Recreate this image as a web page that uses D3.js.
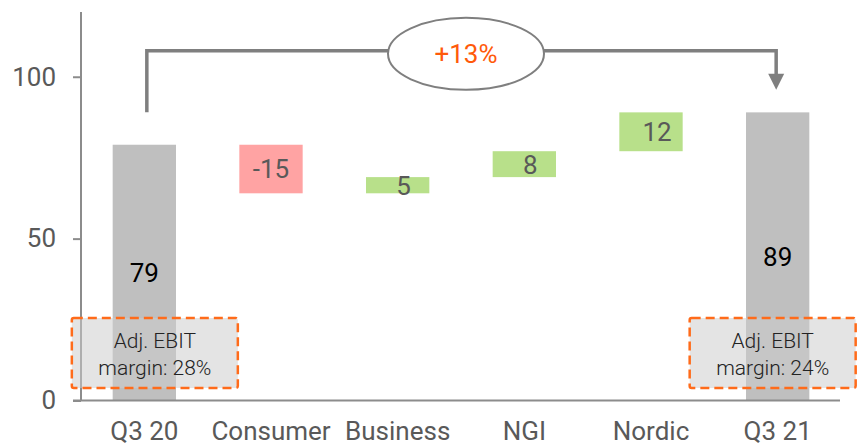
<!DOCTYPE html>
<html>
<head>
<meta charset="utf-8">
<script src="https://cdn.jsdelivr.net/npm/d3@7"></script>
<style>
  body { margin: 0; background: #fff; }
  svg, svg text { font-family: Roboto, "Noto Sans", sans-serif; }
</style>
</head>
<body>
<div id="container"></div>
<script>
var categories = ["Q3 20", "Consumer", "Business", "NGI", "Nordic", "Q3 21"];
var deltas = [79, -15, 5, 8, 12, 89];
var isTotal = [true, false, false, false, false, true];
var yTicks = [0, 50, 100];
var margins = ["Adj. EBIT|margin: 28%", "Adj. EBIT|margin: 24%"];
var growthLabel = "+13%";
// bracket levels in chart units: top line, left start, arrow tip
var bracketLevels = [108, 89, 96];

var width = 857, height = 446;

var svg = d3.select("#container").append("svg")
    .attr("width", width)
    .attr("height", height);

var x = d3.scaleBand()
    .domain(categories)
    .range([81, 841])
    .paddingInner(0.5)
    .paddingOuter(0.25);

var y = d3.scaleLinear()
    .domain([0, 120])
    .range([400.5, 12]);

// build waterfall steps
var bars = [];
var running = 0;
categories.forEach(function (c, i) {
    var d = deltas[i];
    if (isTotal[i]) {
        bars.push({cat: c, y0: 0, y1: d, value: d, type: "total"});
        running = d;
    } else {
        var start = running;
        running = running + d;
        bars.push({cat: c, y0: start, y1: running, value: d, type: d < 0 ? "neg" : "pos"});
    }
});

var fill = {total: "#bfbfbf", neg: "#ffa3a3", pos: "#b8e08a"};

svg.selectAll(".bar")
    .data(bars)
  .enter().append("rect")
    .attr("class", "bar")
    .attr("x", function (d) { return x(d.cat); })
    .attr("width", x.bandwidth())
    .attr("y", function (d) { return y(Math.max(d.y0, d.y1)); })
    .attr("height", function (d) { return Math.abs(y(d.y0) - y(d.y1)); })
    .style("fill", function (d) { return fill[d.type]; });

svg.selectAll(".val")
    .data(bars)
  .enter().append("text")
    .attr("class", "val")
    .attr("x", function (d) { return x(d.cat) + x.bandwidth() / 2 + (d.type == "pos" ? 6 : 0); })
    .attr("y", function (d) { return (y(d.y0) + y(d.y1)) / 2; })
    .attr("dy", "0.36em")
    .attr("text-anchor", "middle")
    .style("font-size", "26px")
    .style("fill", function (d) { return d.type == "total" ? "#000" : "#595959"; })
    .text(function (d) { return d.value; });

// y axis
var yAxis = d3.axisLeft(y).tickValues(yTicks).tickSize(8).tickPadding(17);
var gy = svg.append("g")
    .attr("transform", "translate(81,0)")
    .call(yAxis)
    .attr("font-family", null)
    .attr("font-size", null);
gy.select(".domain").remove();
gy.selectAll("line").attr("stroke", "#8c8c8c").attr("stroke-width", 2);
gy.selectAll("text").style("font-size", "26px").style("fill", "#595959");
svg.append("line")
    .attr("x1", 81).attr("x2", 81)
    .attr("y1", y(120)).attr("y2", y(0))
    .attr("stroke", "#8c8c8c").attr("stroke-width", 2);

// x axis
var xAxis = d3.axisBottom(x).tickSize(0).tickPadding(21);
var gx = svg.append("g")
    .attr("transform", "translate(0," + y(0) + ")")
    .call(xAxis)
    .attr("font-family", null)
    .attr("font-size", null);
gx.select(".domain").remove();
gx.selectAll("text").style("font-size", "26px").style("fill", "#595959");
svg.append("line")
    .attr("x1", 73).attr("x2", 840)
    .attr("y1", y(0)).attr("y2", y(0))
    .attr("stroke", "#8c8c8c").attr("stroke-width", 2);

// margin boxes
var boxes = [
    {text: margins[0], cx: x("Q3 20") + x.bandwidth() / 2 + 10.5},
    {text: margins[1], cx: x("Q3 21") + x.bandwidth() / 2 - 5}
];
var bw = 166, bh = 70;
var gb = svg.selectAll(".mbox")
    .data(boxes)
  .enter().append("g")
    .attr("class", "mbox");
gb.append("rect")
    .attr("x", function (d) { return d.cx - bw / 2; })
    .attr("y", 318)
    .attr("width", bw)
    .attr("height", bh)
    .attr("rx", 2)
    .style("fill", "#cccccc")
    .style("fill-opacity", 0.53)
    .style("stroke", "#ff6b1a")
    .style("stroke-width", 2.5)
    .style("stroke-dasharray", "9,5");
gb.each(function (d) {
    var lines = d.text.split("|");
    var t = d3.select(this);
    lines.forEach(function (l, i) {
        t.append("text")
            .attr("x", d.cx)
            .attr("y", 340 + i * 27)
            .attr("dy", "0.36em")
            .attr("text-anchor", "middle")
            .style("font-size", "21px")
            .style("font-weight", 300)
            .style("fill", "#222")
            .text(l);
    });
});

// growth bracket
var xl = x("Q3 20") + x.bandwidth() / 2 + 2.5;
var xr = x("Q3 21") + x.bandwidth() / 2 - 1.5;
var yTop = y(bracketLevels[0]);
svg.append("path")
    .attr("d", "M" + xl + "," + y(bracketLevels[1]) + "V" + yTop + "H" + xr + "V" + (y(bracketLevels[2]) - 14))
    .attr("fill", "none")
    .attr("stroke", "#7f7f7f")
    .attr("stroke-width", 3.5);
svg.append("path")
    .attr("d", "M" + (xr - 8) + "," + (y(bracketLevels[2]) - 16) + "L" + (xr + 8) + "," + (y(bracketLevels[2]) - 16) + "L" + xr + "," + y(bracketLevels[2]) + "Z")
    .attr("fill", "#7f7f7f");

var ex = 466;
svg.append("ellipse")
    .attr("cx", ex).attr("cy", yTop + 3)
    .attr("rx", 78).attr("ry", 36)
    .attr("fill", "#fff")
    .attr("stroke", "#7f7f7f")
    .attr("stroke-width", 2);
svg.append("text")
    .attr("x", ex).attr("y", yTop + 3)
    .attr("dy", "0.36em")
    .attr("text-anchor", "middle")
    .style("font-size", "26px")
    .style("fill", "#ff5a0a")
    .text(growthLabel);
</script>
</body>
</html>
